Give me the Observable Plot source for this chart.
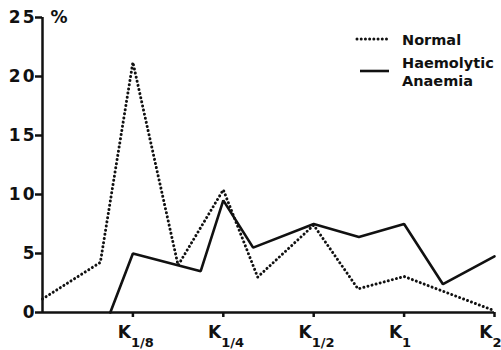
<!DOCTYPE html>
<html><head><meta charset="utf-8">
<script src="https://cdn.jsdelivr.net/npm/d3@7"></script>
<script src="https://cdn.jsdelivr.net/npm/@observablehq/plot@0.6"></script>
<style>
body{margin:0;background:#fff;}
#wrap{position:relative;width:501px;height:350px;overflow:hidden;}
#wrap svg{position:absolute;left:0;top:0;}
</style></head><body><div id="wrap"></div>
<script>
// x positions in log2 of K (K1/8 = -3 ... K2 = 1)
const normalX = [-4.0, -3.36, -3.0, -2.5, -2.0, -1.62, -1.0, -0.51, 0.0, 1.0];
const normalY = [1.15, 4.25, 21.2, 4.0, 10.4, 3.0, 7.4, 2.0, 3.05, 0.15];
const haemX = [-3.25, -3.0, -2.25, -2.0, -1.67, -1.0, -0.5, 0.0, 0.43, 1.0];
const haemY = [0, 5.0, 3.5, 9.5, 5.5, 7.5, 6.4, 7.5, 2.4, 4.75];
const yTicks = [0, 5, 10, 15, 20, 25];
const xTicks = [-3, -2, -1, 0, 1];
const xSubs = ["1/8", "1/4", "1/2", "1", "2"];
const seriesNames = ["Normal", "Haemolytic", "Anaemia"];

const normal = normalX.map((x, i) => ({x, y: normalY[i]}));
const haem = haemX.map((x, i) => ({x, y: haemY[i]}));
const ink = "#111";
const font = "DejaVu Sans, sans-serif";
const dots = "0.01,4.2";

const chart = Plot.plot({
  width: 501, height: 350,
  marginLeft: 42, marginRight: 7, marginTop: 17, marginBottom: 38,
  style: {fontFamily: font, fontWeight: "bold", color: ink, background: "transparent", overflow: "visible"},
  x: {domain: [-4, 1], type: "linear"},
  y: {domain: [0, 25], type: "linear"},
  marks: [
    Plot.axisY(yTicks, {tickSize: 7, tickPadding: -1, fontSize: 17, strokeWidth: 2.5, label: null, stroke: ink}),
    Plot.axisX(xTicks, {tickSize: 5, tickFormat: () => "", strokeWidth: 2.5, label: null, stroke: ink}),
    Plot.ruleX([-4], {y1: 0, y2: 25, stroke: ink, strokeWidth: 2.5}),
    Plot.ruleY([0], {x1: -4, x2: 1, stroke: ink, strokeWidth: 2.5}),
    Plot.text(xTicks, {x: d => d, y: 0, text: () => "K", textAnchor: "end", dx: -2, dy: 20, fontSize: 17, fill: ink}),
    Plot.text(xTicks, {x: d => d, y: 0, text: (d, i) => xSubs[i], textAnchor: "start", dx: -2, dy: 30.5, fontSize: 13, fill: ink}),
    Plot.text(["%"], {x: -4, y: 25, text: d => d, textAnchor: "start", dx: 8, dy: 0, fontSize: 17, fill: ink}),
    Plot.line(haem, {x: "x", y: "y", stroke: ink, strokeWidth: 2.6, strokeLinejoin: "miter"}),
    Plot.line(normal, {x: "x", y: "y", stroke: ink, strokeWidth: 3, strokeDasharray: dots, strokeLinecap: "round"})
  ]
});
document.getElementById("wrap").appendChild(chart);
// make sure the dotted style sits on the Normal path itself
const lineGroups = chart.querySelectorAll('g[aria-label="line"]');
if (lineGroups.length === 2) {
  lineGroups[1].querySelectorAll("path").forEach(p => {
    p.setAttribute("stroke-dasharray", dots);
    p.setAttribute("stroke-linecap", "round");
    p.setAttribute("stroke-width", 3);
  });
}
// wider digit spacing like the reference type
chart.querySelectorAll('g[aria-label="y-axis tick label"] text').forEach(t => t.setAttribute("letter-spacing", "2"));

// legend overlay
const leg = d3.select("#wrap").append("svg").attr("width", 501).attr("height", 350)
  .style("font-family", font).style("font-weight", "bold").style("font-size", "14.5px");
leg.append("line").attr("x1", 357).attr("x2", 389).attr("y1", 39).attr("y2", 39)
  .attr("stroke", ink).attr("stroke-width", 3).attr("stroke-dasharray", dots).attr("stroke-linecap", "round");
leg.append("text").attr("x", 402).attr("y", 45).attr("fill", ink).text(seriesNames[0]);
leg.append("line").attr("x1", 360).attr("x2", 389).attr("y1", 71).attr("y2", 71)
  .attr("stroke", ink).attr("stroke-width", 2.6);
leg.append("text").attr("x", 402).attr("y", 68).attr("fill", ink).text(seriesNames[1]);
leg.append("text").attr("x", 402).attr("y", 86).attr("fill", ink).text(seriesNames[2]);
</script></body></html>
